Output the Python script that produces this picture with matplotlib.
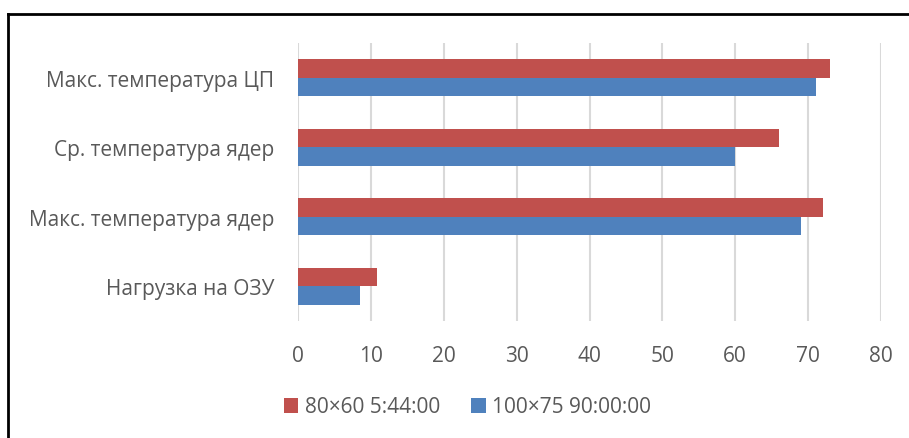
import matplotlib
matplotlib.use("Agg")
import matplotlib.pyplot as plt
from matplotlib.patches import Patch
from matplotlib.lines import Line2D
import numpy as np

plt.rcParams['font.family'] = ['Open Sans', 'DejaVu Sans']

categories = ["Макс. температура ЦП", "Ср. температура ядер",
              "Макс. температура ядер", "Нагрузка на ОЗУ"]
series_names = ["80×60 5:44:00", "100×75 90:00:00"]
red_values = [73.0, 66.0, 72.0, 10.8]
blue_values = [71.1, 60.0, 69.0, 8.5]
x_ticks = [0, 10, 20, 30, 40, 50, 60, 70, 80]

RED = "#C0504D"
BLUE = "#4F81BD"
TEXT = "#595959"
GRID = "#D9D9D9"
FS = 15

W, H = 909, 439
fig = plt.figure(figsize=(W / 100, H / 100), dpi=100)
ax = fig.add_axes([298 / W, 1 - 322 / H, (881 - 298) / W, (322 - 44) / H])

y = np.arange(len(categories))
h = 0.266
ax.barh(y - h / 2, red_values, height=h, color=RED, zorder=3)
ax.barh(y + h / 2, blue_values, height=h, color=BLUE, zorder=3)

ax.set_xlim(0, 80)
ax.set_ylim(len(categories) - 0.5, -0.5)
ax.set_xticks(x_ticks)
ax.set_xticklabels([str(t) for t in x_ticks])
ax.set_yticks(y)
ax.set_yticklabels(categories)
ax.tick_params(axis='both', length=0, colors=TEXT, labelsize=FS)
ax.tick_params(axis='x', pad=17)
ax.tick_params(axis='y', pad=17)
ax.grid(axis='x', color=GRID, linewidth=1.5, zorder=0)
for s in ax.spines.values():
    s.set_visible(False)

handles = [Patch(facecolor=RED), Patch(facecolor=BLUE)]
fig.legend(handles, series_names, loc='center left',
           bbox_to_anchor=(265 / W, 1 - 408 / H), ncol=2, frameon=False,
           fontsize=FS, labelcolor=TEXT, handlelength=0.7, handleheight=0.7,
           handletextpad=0.3, columnspacing=1.5)

# outer frame
fig.add_artist(Line2D([8 / W, 1], [1 - 15 / H, 1 - 15 / H], color='black',
                      linewidth=2, transform=fig.transFigure))
fig.add_artist(Line2D([8 / W, 8 / W], [0, 1 - 15 / H], color='black',
                      linewidth=2, transform=fig.transFigure))

fig.savefig("out.png", dpi=100, facecolor='white')
